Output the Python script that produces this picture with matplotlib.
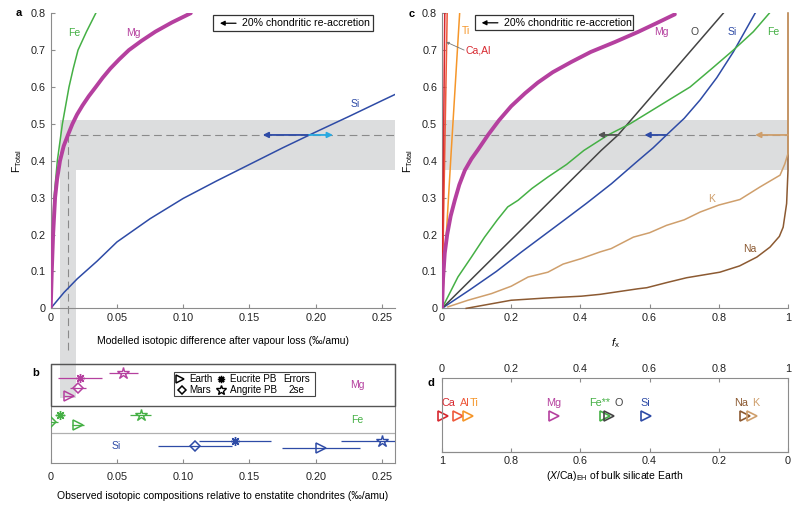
import numpy as np
import matplotlib
matplotlib.use("Agg")
import matplotlib.pyplot as plt
from matplotlib.patches import Rectangle

plt.rcParams['font.family'] = ['Liberation Sans', 'DejaVu Sans']
plt.rcParams['font.size'] = 7.5
plt.rcParams['mathtext.fontset'] = 'custom'
plt.rcParams['mathtext.rm'] = 'Liberation Sans'
plt.rcParams['mathtext.it'] = 'Liberation Sans:italic'
plt.rcParams['mathtext.bf'] = 'Liberation Sans:bold'

# ---- panel a : F_total vs modelled isotopic difference
a_fe_x = [0, 0.0005, 0.0013, 0.0025, 0.005, 0.0088, 0.0138, 0.017, 0.0206, 0.027, 0.034]
a_fe_y = [0, 0.1, 0.2, 0.3, 0.4, 0.5, 0.6, 0.65, 0.7, 0.75, 0.8]
a_mg_x = [0, 0.0008, 0.0018, 0.0033, 0.0048, 0.007, 0.0098, 0.013, 0.0164, 0.0198, 0.024,
          0.0287, 0.034, 0.0392, 0.045, 0.0517, 0.059, 0.0685, 0.079, 0.0915, 0.1057]
a_mg_y = [0, 0.1, 0.2, 0.3, 0.35, 0.4, 0.44, 0.47, 0.5, 0.525, 0.55,
          0.575, 0.6, 0.625, 0.65, 0.675, 0.7, 0.725, 0.75, 0.775, 0.8]
a_si_x = [0, 0.01, 0.02, 0.035, 0.05, 0.075, 0.1, 0.125, 0.15, 0.175, 0.2, 0.225, 0.25, 0.26]
a_si_y = [0, 0.043, 0.08, 0.128, 0.18, 0.243, 0.298, 0.345, 0.39, 0.435, 0.478, 0.52, 0.563, 0.58]

# ---- panel c : F_total vs f_x
c_ca_x = [0, 0.008]
c_ca_y = [0, 0.8]
c_al_x = [0, 0.015]
c_al_y = [0, 0.8]
c_ti_x = [0, 0.025, 0.051]
c_ti_y = [0, 0.4, 0.8]
c_mg_x = [0, 0.003, 0.008, 0.015, 0.025, 0.037, 0.05, 0.066, 0.085, 0.104, 0.133, 0.165,
          0.2, 0.24, 0.277, 0.32, 0.374, 0.43, 0.5, 0.566, 0.62, 0.673]
c_mg_y = [0, 0.08, 0.15, 0.2, 0.25, 0.293, 0.335, 0.374, 0.405, 0.43, 0.47, 0.51,
          0.548, 0.583, 0.612, 0.64, 0.668, 0.695, 0.722, 0.749, 0.773, 0.797]
c_o_x = [0, 0.1, 0.2, 0.3, 0.46, 0.509, 0.65, 0.813]
c_o_y = [0, 0.093, 0.186, 0.279, 0.428, 0.47, 0.623, 0.8]
c_si_x = [0, 0.08, 0.157, 0.23, 0.3, 0.36, 0.418, 0.49, 0.56, 0.61, 0.649, 0.70, 0.746,
          0.794, 0.842, 0.875, 0.905]
c_si_y = [0, 0.05, 0.1, 0.153, 0.202, 0.244, 0.285, 0.338, 0.395, 0.435, 0.47, 0.515, 0.565,
          0.625, 0.695, 0.75, 0.80]
c_fe_x = [0, 0.046, 0.085, 0.123, 0.16, 0.19, 0.22, 0.26, 0.306, 0.36, 0.41, 0.48, 0.543,
          0.63, 0.717, 0.78, 0.842, 0.9, 0.946]
c_fe_y = [0, 0.085, 0.139, 0.193, 0.24, 0.275, 0.293, 0.325, 0.356, 0.39, 0.428, 0.47, 0.5,
          0.55, 0.6, 0.65, 0.7, 0.75, 0.8]
c_k_x = [0.017, 0.075, 0.143, 0.2, 0.249, 0.306, 0.35, 0.403, 0.457, 0.489, 0.553, 0.6,
         0.649, 0.7, 0.746, 0.8, 0.861, 0.919, 0.977, 0.991, 1.0, 1.0]
c_k_y = [0.004, 0.022, 0.04, 0.06, 0.085, 0.098, 0.12, 0.135, 0.153, 0.162, 0.193, 0.205,
         0.225, 0.24, 0.261, 0.28, 0.295, 0.329, 0.361, 0.392, 0.42, 0.8]
c_na_x = [0.07, 0.2, 0.3, 0.403, 0.457, 0.566, 0.592, 0.65, 0.707, 0.803, 0.86, 0.91,
          0.948, 0.975, 0.986, 0.996, 1.0, 1.0]
c_na_y = [0, 0.022, 0.028, 0.033, 0.038, 0.053, 0.056, 0.07, 0.083, 0.098, 0.115, 0.139,
          0.166, 0.195, 0.22, 0.284, 0.374, 0.8]

# ---- panel b : observed isotopic compositions (Earth, Mars, Eucrite PB, Angrite PB)
bodies = ['Earth', 'Mars', 'Eucrite PB', 'Angrite PB']
b_mg_x = [0.0138, 0.0206, 0.0222, 0.0549]
b_mg_err = [0.004, 0.0062, 0.0167, 0.011]
b_fe_x = [0.0209, 0.0005, 0.007, 0.068]
b_fe_err = [0.0045, 0.005, 0.0038, 0.0078]
b_si_x = [0.2039, 0.1088, 0.1392, 0.25]
b_si_err = [0.0292, 0.028, 0.0273, 0.031]

# ---- panel d : f_x of bulk silicate Earth
d_elements = ['Ca', 'Al', 'Ti', 'Mg', 'Fe**', 'O', 'Si', 'Na', 'K']
d_fx = [0.003, 0.046, 0.075, 0.323, 0.471, 0.484, 0.589, 0.876, 0.896]

F_BAND = (0.375, 0.51)
F_LINE = 0.47
A_BAND = (0.007, 0.0188)
A_LINE = 0.013

col = {'Fe': '#45b045', 'Mg': '#b5409f', 'Si': '#2e4ba6', 'O': '#444444',
       'K': '#cf9f6c', 'Na': '#8c5a32', 'Ti': '#f5962a', 'Ca': '#d7282f',
       'Al': '#ee5a3c', 'Fe**': '#45b045'}
band_col = '#dcddde'
spine_col = '#8c8c8c'
dash_col = '#8a8a8a'

fig = plt.figure(figsize=(8, 5.08), dpi=100)
ax_a = fig.add_axes([0.0634, 0.393, 0.4306, 0.581])
ax_c = fig.add_axes([0.5525, 0.393, 0.4325, 0.581])
ax_b = fig.add_axes([0.0634, 0.0892, 0.4306, 0.1937])
ax_d = fig.add_axes([0.5525, 0.110, 0.4325, 0.146])
ax_b.patch.set_alpha(0)


def style_axes(ax):
    for s in ax.spines.values():
        s.set_color(spine_col)
        s.set_linewidth(0.8)
    ax.tick_params(direction='in', length=3, color=spine_col, labelcolor='#222222',
                   labelsize=7.8)


def reaccretion_box(ax, x0, x1, y0, y1):
    ax.add_patch(Rectangle((x0, y0), x1 - x0, y1 - y0, transform=ax.transAxes,
                           fill=False, ec='#333333', lw=0.9, clip_on=False, zorder=6))
    ym = (y0 + y1) / 2
    ax.annotate('', xy=(x0 + 0.012, ym), xytext=(x0 + 0.075, ym), xycoords='axes fraction',
                arrowprops=dict(arrowstyle='-|>', color='black', lw=0.9, mutation_scale=7), zorder=7)
    ax.text(x0 + 0.085, ym, '20% chondritic re-accretion', transform=ax.transAxes,
            va='center', ha='left', fontsize=7.6, zorder=7)


def arrow(ax, x0, x1, y, c):
    ax.annotate('', xy=(x1, y), xytext=(x0, y),
                arrowprops=dict(arrowstyle='-|>', color=c, lw=1.3, mutation_scale=8,
                                shrinkA=0, shrinkB=0), zorder=5)


# ---------------- panel a
style_axes(ax_a)
ax_a.spines['top'].set_visible(False)
ax_a.spines['right'].set_visible(False)
ax_a.add_patch(Rectangle((A_BAND[0], F_BAND[0]), 0.26 - A_BAND[0], F_BAND[1] - F_BAND[0],
                         color=band_col, lw=0, zorder=0))
ax_a.add_patch(Rectangle((A_BAND[0], -0.243), A_BAND[1] - A_BAND[0], F_BAND[0] + 0.243,
                         color=band_col, lw=0, zorder=0, clip_on=False))
ax_a.plot([A_LINE, 0.26], [F_LINE, F_LINE], ls=(0, (7, 4)), color=dash_col, lw=0.8, zorder=1)
ax_a.plot([A_LINE, A_LINE], [-0.113, F_LINE], ls=(0, (7, 4)), color=dash_col, lw=0.8,
          zorder=1, clip_on=False)
ax_a.plot(a_si_x, a_si_y, color=col['Si'], lw=1.1, zorder=3)
ax_a.plot(a_fe_x, a_fe_y, color=col['Fe'], lw=1.1, zorder=3)
ax_a.plot(a_mg_x, a_mg_y, color=col['Mg'], lw=2.8, zorder=4, solid_capstyle='round')
arrow(ax_a, 0.195, 0.16, F_LINE, col['Si'])
arrow(ax_a, 0.195, 0.213, F_LINE, '#29a9e0')
ax_a.text(0.018, 0.746, 'Fe', color=col['Fe'], ha='center', va='center')
ax_a.text(0.0624, 0.746, 'Mg', color=col['Mg'], ha='center', va='center')
ax_a.text(0.2296, 0.554, 'Si', color=col['Si'], ha='center', va='center')
ax_a.set_xlim(0, 0.26)
ax_a.set_ylim(0, 0.8)
ax_a.set_xticks([0, 0.05, 0.10, 0.15, 0.20, 0.25])
ax_a.set_xticklabels(['0', '0.05', '0.10', '0.15', '0.20', '0.25'])
ax_a.set_yticks(np.arange(0, 0.81, 0.1))
ax_a.set_yticklabels(['0', '0.1', '0.2', '0.3', '0.4', '0.5', '0.6', '0.7', '0.8'])
ax_a.set_xlabel('Modelled isotopic difference after vapour loss (‰/amu)', labelpad=9)
ax_a.set_ylabel(r'F$_{\mathrm{Total}}$', labelpad=5)
reaccretion_box(ax_a, 0.471, 0.936, 0.939, 0.993)
fig.text(0.019, 0.974, 'a', fontweight='bold', fontsize=8, va='center')

# ---------------- panel c
style_axes(ax_c)
ax_c.spines['top'].set_visible(False)
ax_c.spines['right'].set_visible(False)
ax_c.axhspan(F_BAND[0], F_BAND[1], color=band_col, lw=0, zorder=0)
ax_c.plot([0, 1], [F_LINE, F_LINE], ls=(0, (7, 4)), color=dash_col, lw=0.8, zorder=1)
ax_c.plot(c_na_x, c_na_y, color=col['Na'], lw=1.1, zorder=3, clip_on=False)
ax_c.plot(c_k_x, c_k_y, color=col['K'], lw=1.1, zorder=3, clip_on=False)
ax_c.plot(c_si_x, c_si_y, color=col['Si'], lw=1.1, zorder=3)
ax_c.plot(c_o_x, c_o_y, color=col['O'], lw=1.1, zorder=3)
ax_c.plot(c_fe_x, c_fe_y, color=col['Fe'], lw=1.1, zorder=3)
ax_c.plot(c_mg_x, c_mg_y, color=col['Mg'], lw=2.8, zorder=4, solid_capstyle='round')
ax_c.plot(c_ti_x, c_ti_y, color=col['Ti'], lw=1.1, zorder=3)
ax_c.plot(c_al_x, c_al_y, color=col['Al'], lw=1.1, zorder=3)
ax_c.plot(c_ca_x, c_ca_y, color=col['Ca'], lw=1.1, zorder=3)
arrow(ax_c, 0.509, 0.45, F_LINE, '#555555')
arrow(ax_c, 0.649, 0.585, F_LINE, col['Si'])
arrow(ax_c, 1.0, 0.905, F_LINE, col['K'])
ax_c.text(0.07, 0.751, 'Ti', color=col['Ti'], ha='center', va='center')
ax_c.text(0.068, 0.70, 'Ca,Al', color=col['Ca'], ha='left', va='center')
ax_c.annotate('', xy=(0.012, 0.722), xytext=(0.064, 0.70),
              arrowprops=dict(arrowstyle='-|>', color='#777777', lw=0.6, mutation_scale=4,
                              shrinkA=0, shrinkB=0))
ax_c.text(0.633, 0.749, 'Mg', color=col['Mg'], ha='center', va='center')
ax_c.text(0.731, 0.749, 'O', color=col['O'], ha='center', va='center')
ax_c.text(0.840, 0.749, 'Si', color=col['Si'], ha='center', va='center')
ax_c.text(0.956, 0.749, 'Fe', color=col['Fe'], ha='center', va='center')
ax_c.text(0.779, 0.297, 'K', color=col['K'], ha='center', va='center')
ax_c.text(0.89, 0.162, 'Na', color=col['Na'], ha='center', va='center')
ax_c.set_xlim(0, 1)
ax_c.set_ylim(0, 0.8)
ax_c.set_xticks([0, 0.2, 0.4, 0.6, 0.8, 1])
ax_c.set_xticklabels(['0', '0.2', '0.4', '0.6', '0.8', '1'])
ax_c.set_yticks(np.arange(0, 0.81, 0.1))
ax_c.set_yticklabels(['0', '0.1', '0.2', '0.3', '0.4', '0.5', '0.6', '0.7', '0.8'])
ax_c.set_ylabel(r'F$_{\mathrm{Total}}$', labelpad=5)
reaccretion_box(ax_c, 0.0945, 0.552, 0.942, 0.993)
fig.text(0.511, 0.972, 'c', fontweight='bold', fontsize=8, va='center')

# ---------------- panel b
style_axes(ax_b)
ax_b.set_xlim(0, 0.26)
ax_b.set_ylim(0, 98.4)
ax_b.set_yticks([])
ax_b.set_xticks([0, 0.05, 0.10, 0.15, 0.20, 0.25])
ax_b.set_xticklabels(['0', '0.05', '0.10', '0.15', '0.20', '0.25'])
ax_b.tick_params(axis='x', pad=7)
ax_b.axhline(29.7, color='#b0b0b0', lw=0.9)
ax_b.add_patch(Rectangle((0, 57), 0.26, 41.4, fill=False, ec='#555555', lw=1.0,
                         zorder=6, clip_on=False))
markers = {'Earth': dict(marker='>', ms=7, mfc='none', mew=1.1),
           'Mars': dict(marker='D', ms=5.2, mfc='none', mew=1.1),
           'Eucrite PB': dict(marker=(8, 2, 0), ms=6.5, mew=1.0),
           'Angrite PB': dict(marker='*', ms=9, mfc='none', mew=1.0)}
rows = [('Mg', b_mg_x, b_mg_err, [67, 74.4, 85, 89.4]),
        ('Fe', b_fe_x, b_fe_err, [37.4, 40.4, 47.4, 47.4]),
        ('Si', b_si_x, b_si_err, [15, 16.7, 21.7, 21.7])]
for el, xs, errs, ys in rows:
    for body, x, e, y in zip(bodies, xs, errs, ys):
        ax_b.errorbar(x, y, xerr=e, color=col[el], lw=0.9, capsize=0,
                      zorder=4, **markers[body])
ax_b.text(0.2316, 77.7, 'Mg', color=col['Mg'], ha='center', va='center')
ax_b.text(0.2316, 42.7, 'Fe', color=col['Fe'], ha='center', va='center')
ax_b.text(0.0498, 16.7, 'Si', color=col['Si'], ha='center', va='center')
# legend box
ax_b.add_patch(Rectangle((0.358, 0.678), 0.408, 0.241, transform=ax_b.transAxes,
                         fill=False, ec='#444444', lw=0.8, zorder=6))
leg_pos = {'Earth': (0.376, 0.851), 'Mars': (0.380, 0.739),
           'Eucrite PB': (0.4946, 0.851), 'Angrite PB': (0.4946, 0.739)}
for body, (lx, ly) in leg_pos.items():
    m = dict(markers[body])
    m['ms'] = m['ms'] * 0.8
    ax_b.plot([lx], [ly], transform=ax_b.transAxes, color='black', **m)
    tx = 0.4026 if body in ('Earth', 'Mars') else 0.5208
    ax_b.text(tx, ly, body, transform=ax_b.transAxes, va='center', ha='left', fontsize=7.1)
ax_b.text(0.7145, 0.851, 'Errors', transform=ax_b.transAxes, ha='center', va='center',
          fontsize=7.1)
ax_b.text(0.7145, 0.739, '2se', transform=ax_b.transAxes, ha='center', va='center',
          fontsize=7.1)
ax_b.set_xlabel('Observed isotopic compositions relative to enstatite chondrites (‰/amu)',
                labelpad=6)
fig.text(0.040, 0.266, 'b', fontweight='bold', fontsize=8, va='center')

# ---------------- panel d
style_axes(ax_d)
ax_d.set_xlim(0, 1)
ax_d.set_ylim(0, 1)
ax_d.set_yticks([])
ax_d.xaxis.tick_top()
ax_d.set_xticks([0, 0.2, 0.4, 0.6, 0.8, 1])
ax_d.set_xticklabels(['0', '0.2', '0.4', '0.6', '0.8', '1'])
ax_d.tick_params(axis='x', top=True, bottom=False, pad=3)
sec = ax_d.secondary_xaxis('bottom', functions=(lambda v: 1 - v, lambda v: 1 - v))
sec.set_xticks([1, 0.8, 0.6, 0.4, 0.2, 0])
sec.set_xticklabels(['1', '0.8', '0.6', '0.4', '0.2', '0'])
sec.tick_params(direction='in', length=3, color=spine_col, labelcolor='#222222', pad=3,
                labelsize=7.8)
sec.spines['bottom'].set_color(spine_col)
sec.set_xlabel(r'($\mathit{X}$/Ca)$_{\mathrm{EH}}$ of bulk silicate Earth', labelpad=2)
lab_shift = {'Ca': 0.017, 'Al': 0.02, 'Ti': 0.019, 'Mg': 0.001, 'Fe**': -0.016,
             'O': 0.026, 'Si': -0.002, 'Na': -0.011, 'K': 0.01}
for el, fx in zip(d_elements, d_fx):
    ax_d.plot(fx, 0.486, marker='>', ms=7, mfc='none', mew=1.2, color=col[el], clip_on=False)
    ax_d.text(fx + lab_shift[el], 0.666, el, color=col[el], ha='center', va='center',
              fontsize=7.8)
fig.text(0.535, 0.246, 'd', fontweight='bold', fontsize=8, va='center')
fig.text(0.769, 0.325, r'$f_{\mathrm{x}}$', ha='center', va='center', fontsize=8)

fig.savefig('out.png', dpi=100)
